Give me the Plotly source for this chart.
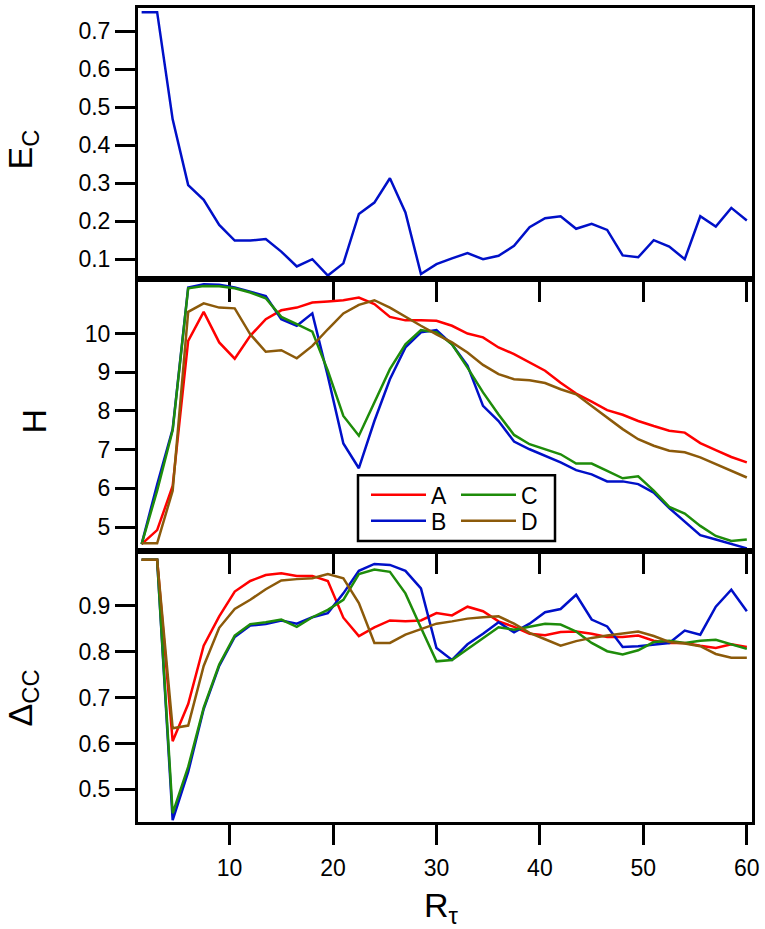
import plotly.graph_objects as go
from plotly.subplots import make_subplots

# R_tau sample points (step 1.5)
r_tau = [1.5, 3, 4.5, 6, 7.5, 9, 10.5, 12, 13.5, 15,
         16.5, 18, 19.5, 21, 22.5, 24, 25.5, 27, 28.5, 30,
         31.5, 33, 34.5, 36, 37.5, 39, 40.5, 42, 43.5, 45,
         46.5, 48, 49.5, 51, 52.5, 54, 55.5, 57, 58.5, 60]

e_c = [0.75, 0.75, 0.468, 0.295, 0.256, 0.19, 0.149, 0.149, 0.153, 0.12,
       0.081, 0.1, 0.057, 0.089, 0.219, 0.249, 0.313, 0.223, 0.061, 0.087,
       0.102, 0.116, 0.1, 0.109, 0.135, 0.184, 0.208, 0.213, 0.18, 0.193,
       0.177, 0.11, 0.105, 0.15, 0.133, 0.1, 0.213, 0.186, 0.235, 0.202]

h_a = [4.56, 4.92, 6.06, 9.81, 10.56, 9.77, 9.35, 9.94, 10.37, 10.6,
       10.67, 10.8, 10.83, 10.86, 10.93, 10.76, 10.43, 10.34, 10.34, 10.33,
       10.2, 10.0, 9.9, 9.64, 9.47, 9.25, 9.04, 8.73, 8.45, 8.24,
       8.02, 7.9, 7.74, 7.61, 7.49, 7.44, 7.17, 6.99, 6.81, 6.67]
h_b = [4.56, 6.1, 7.53, 11.19, 11.27, 11.26, 11.19, 11.09, 10.97, 10.37,
       10.2, 10.52, 8.9, 7.16, 6.52, 7.74, 8.82, 9.64, 10.03, 10.09,
       9.72, 9.17, 8.13, 7.74, 7.21, 7.01, 6.84, 6.67, 6.47, 6.36,
       6.18, 6.18, 6.11, 5.89, 5.49, 5.14, 4.79, 4.68, 4.57, 4.45]
h_c = [4.56, 5.94, 7.5, 11.17, 11.23, 11.22, 11.17, 11.06, 10.91, 10.43,
       10.24, 10.05, 9.04, 7.87, 7.36, 8.22, 9.08, 9.72, 10.09, 10.03,
       9.72, 9.12, 8.48, 7.91, 7.38, 7.14, 7.01, 6.88, 6.64, 6.64,
       6.45, 6.26, 6.31, 5.94, 5.52, 5.35, 5.03, 4.77, 4.64, 4.68]
h_d = [4.58, 4.58, 5.94, 10.56, 10.78, 10.67, 10.65, 9.98, 9.53, 9.57,
       9.36, 9.68, 10.11, 10.52, 10.74, 10.86, 10.67, 10.43, 10.2, 9.98,
       9.77, 9.51, 9.19, 8.95, 8.82, 8.79, 8.72, 8.56, 8.43, 8.13,
       7.83, 7.53, 7.27, 7.1, 6.97, 6.93, 6.8, 6.62, 6.45, 6.28]

dcc_a = [1.0, 1.0, 0.605, 0.686, 0.813, 0.877, 0.931, 0.954, 0.967, 0.971,
         0.965, 0.965, 0.954, 0.874, 0.834, 0.853, 0.868, 0.866, 0.868, 0.884,
         0.879, 0.898, 0.888, 0.866, 0.854, 0.839, 0.836, 0.843, 0.844, 0.839,
         0.832, 0.832, 0.835, 0.824, 0.819, 0.819, 0.813, 0.808, 0.816, 0.81]
dcc_b = [1.0, 1.0, 0.433, 0.538, 0.675, 0.769, 0.832, 0.857, 0.86, 0.868,
         0.861, 0.875, 0.884, 0.927, 0.976, 0.991, 0.989, 0.976, 0.938, 0.808,
         0.782, 0.816, 0.839, 0.864, 0.842, 0.861, 0.886, 0.893, 0.924, 0.87,
         0.855, 0.81, 0.812, 0.816, 0.819, 0.846, 0.837, 0.898, 0.935, 0.888]
dcc_c = [1.0, 1.0, 0.448, 0.549, 0.678, 0.772, 0.835, 0.86, 0.864, 0.87,
         0.854, 0.875, 0.891, 0.913, 0.969, 0.979, 0.974, 0.927, 0.852, 0.779,
         0.782, 0.806, 0.83, 0.853, 0.848, 0.855, 0.861, 0.859, 0.844, 0.819,
         0.801, 0.794, 0.803, 0.821, 0.824, 0.819, 0.824, 0.826, 0.816, 0.806]
dcc_d = [1.0, 1.0, 0.633, 0.639, 0.769, 0.852, 0.893, 0.913, 0.936, 0.955,
         0.958, 0.96, 0.969, 0.96, 0.906, 0.819, 0.819, 0.837, 0.849, 0.861,
         0.866, 0.872, 0.875, 0.877, 0.861, 0.841, 0.827, 0.813, 0.823, 0.83,
         0.835, 0.839, 0.844, 0.834, 0.821, 0.818, 0.812, 0.795, 0.787, 0.787]

series_names = ['A', 'B', 'C', 'D']
colors = {'A': '#ff0000', 'B': '#0010c8', 'C': '#1e8c0a', 'D': '#8c5a0a'}
h_vals = {'A': h_a, 'B': h_b, 'C': h_c, 'D': h_d}
dcc_vals = {'A': dcc_a, 'B': dcc_b, 'C': dcc_c, 'D': dcc_d}
# one legend per entry so the 2x2 block can be placed exactly
legend_of = {'A': 'legend', 'B': 'legend2', 'C': 'legend3', 'D': 'legend4'}
legend_pos = {'A': (366, 472), 'B': (366, 498), 'C': (456, 472), 'D': (456, 498)}

W, H = 765, 929
ML, MR, MT, MB = 138, 13, 5, 107
PW, PH = W - ML - MR, H - MT - MB


def px_x(px):
    return (px - ML) / PW


def px_y(py):
    return (H - MB - py) / PH


fig = make_subplots(rows=3, cols=1, shared_xaxes=True, vertical_spacing=0)

fig.add_trace(go.Scatter(x=r_tau, y=e_c, mode='lines', line=dict(color=colors['B'], width=2.5),
                         showlegend=False), row=1, col=1)

for name in series_names:
    fig.add_trace(go.Scatter(x=r_tau, y=h_vals[name], mode='lines', name=name,
                             line=dict(color=colors[name], width=2.5),
                             legend=legend_of[name]), row=2, col=1)

for name in series_names:
    fig.add_trace(go.Scatter(x=r_tau, y=dcc_vals[name], mode='lines', name=name,
                             line=dict(color=colors[name], width=2.5),
                             showlegend=False), row=3, col=1)

axis_style = dict(showline=True, linecolor='black', linewidth=3, mirror=True,
                  ticks='outside', ticklen=20, tickwidth=3, tickcolor='black',
                  showgrid=False, zeroline=False, tickfont=dict(size=23, color='black'))

for r in (1, 2, 3):
    fig.update_xaxes(axis_style, range=[1.15, 60.5], tickvals=[10, 20, 30, 40, 50, 60],
                     showticklabels=(r == 3), ticklabelstandoff=3, row=r, col=1)

fig.update_yaxes(axis_style, range=[0.047, 0.761],
                 tickvals=[0.1, 0.2, 0.3, 0.4, 0.5, 0.6, 0.7], row=1, col=1)
fig.update_yaxes(axis_style, range=[4.39, 11.4],
                 tickvals=[5, 6, 7, 8, 9, 10], row=2, col=1)
fig.update_yaxes(axis_style, range=[0.429, 1.02],
                 tickvals=[0.5, 0.6, 0.7, 0.8, 0.9], row=3, col=1)

title_font = dict(size=34, color='black')
annotations = [
    dict(text='E<sub>C</sub>', x=px_x(22), y=px_y(147), textangle=-90),
    dict(text='H', x=px_x(34), y=px_y(420), textangle=-90),
    dict(text='Δ<sub>CC</sub>', x=px_x(22), y=px_y(698), textangle=-90),
    dict(text='R<sub>τ</sub>', x=px_x(441), y=px_y(908), textangle=0),
]
for a in annotations:
    a.update(xref='paper', yref='paper', showarrow=False, font=title_font,
             xanchor='center', yanchor='middle')

legend_style = dict(font=dict(size=23, color='black'), bgcolor='rgba(0,0,0,0)',
                    borderwidth=0, itemwidth=55, xanchor='left', yanchor='top')
legends = {}
for name in series_names:
    lx, ly = legend_pos[name]
    legends[legend_of[name]] = dict(legend_style, x=px_x(lx), y=px_y(ly))

fig.update_layout(
    width=W, height=H,
    margin=dict(l=ML, r=MR, t=MT, b=MB),
    paper_bgcolor='white',
    plot_bgcolor='rgba(0,0,0,0)',
    font=dict(family='Liberation Sans, Arial, sans-serif', color='black'),
    annotations=annotations,
    shapes=[dict(type='rect', xref='paper', yref='paper',
                 x0=px_x(358), x1=px_x(555), y0=px_y(540), y1=px_y(474),
                 line=dict(color='black', width=2.5), fillcolor='white', layer='below')],
    **legends,
)

fig.write_html('out.html', config={'displayModeBar': False},
               post_script="document.body.style.margin='0';")
